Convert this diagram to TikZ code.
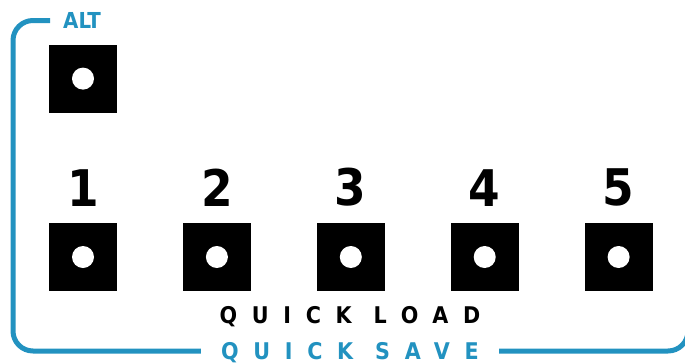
\documentclass[tikz,border=0pt]{standalone}
\usepackage{fontspec}
\setmainfont{DejaVu Sans Condensed}
\newfontfamily\spacedfont[LetterSpace=64]{DejaVu Sans Condensed}
\usepackage{xcolor}
\definecolor{panelBlue}{HTML}{2292C0}
\definecolor{keyBlack}{HTML}{000000}
\usepackage{tikz}
\usetikzlibrary{positioning}
\tikzset{
    % Black key with a white dot in the middle
    keybox/.style={
        rectangle,
        fill=keyBlack,
        minimum size=68pt,
        inner sep=0pt,
        path picture={\fill[white] (path picture bounding box.center) circle (11pt);},
    },
    % Slot numbers above the keys
    keynum/.style={
        font=\fontsize{50.5}{50.5}\selectfont\bfseries,
        inner sep=0pt,
    },
    % Blue frame round the panel
    frame line/.style={
        draw=panelBlue,
        line width=5pt,
        rounded corners=20pt,
    },
    % Small blue label in the frame
    frame label/.style={
        font=\fontsize{22}{22}\selectfont\bfseries,
        text=panelBlue,
        inner ysep=0pt,
    },
    % Wide spaced labels under the keys
    wide label/.style={
        font=\fontsize{23}{23}\selectfont\bfseries\spacedfont,
        inner ysep=0pt,
        text height=16.8pt,
        text depth=0pt,
    },
}

\begin{document}
\begin{tikzpicture}[x=1pt, y=-1pt]
    \useasboundingbox (0,0) rectangle (685,362);

    \node (key1) [keybox] at (83,257) {};
    \node (key2) [keybox, right=65.5pt of key1] {};
    \node (key3) [keybox, right=65.5pt of key2] {};
    \node (key4) [keybox, right=65.5pt of key3] {};
    \node (key5) [keybox, right=65.5pt of key4] {};
    \node (altkey) [keybox, above=110pt of key1] {};

    \node (num1) [keynum, above=16pt of key1] {1};
    \node (num2) [keynum, above=16pt of key2] {2};
    \node (num3) [keynum, above=16pt of key3] {3};
    \node (num4) [keynum, above=16pt of key4] {4};
    \node (num5) [keynum, above=16pt of key5] {5};

    \node (altlabel) [frame label, inner xsep=13pt, anchor=west] at (50,20.5) {ALT};
    \node (loadlabel) [wide label] at (350,315) {QUICK LOAD};
    \node (savelabel) [wide label, text=panelBlue, inner xsep=20pt] at (350,351) {QUICK SAVE};

    \coordinate (topleft) at (13,20.5);
    \coordinate (botleft) at (13,351);
    \coordinate (botright) at (688,351);
    \coordinate (rightend) at (688,200);

    \draw [frame line] (altlabel.west) -- (topleft) -- (botleft) -- (savelabel.west);
    \draw [frame line] (savelabel.east) -- (botright) -- (rightend);
\end{tikzpicture}
\end{document}
